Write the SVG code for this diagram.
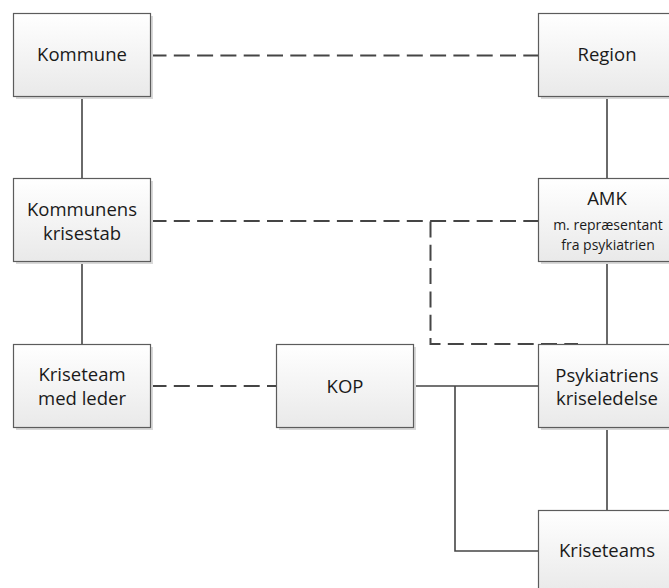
<svg xmlns="http://www.w3.org/2000/svg" width="669" height="588" viewBox="0 0 669 588">
<defs>
<linearGradient id="g" x1="0" y1="0" x2="0" y2="1">
<stop offset="0" stop-color="#ffffff"/>
<stop offset="1" stop-color="#e9e9e9"/>
</linearGradient>
<style>
.shadow{fill:#d9d9d9;}
.box{fill:url(#g);stroke:#5c5c5c;stroke-width:1.2;}
.t{font-family:"Open Sans","Liberation Sans",sans-serif;font-size:18.5px;fill:#1a1a1a;text-anchor:middle;}
.s{font-size:14px;}
.solid{fill:none;stroke:#454545;stroke-width:1.6;}
.dash{fill:none;stroke:#454545;stroke-width:2;stroke-dasharray:16 7.3;}
</style>
</defs>
<rect width="669" height="588" fill="#ffffff"/>
<g id="connectors">
<path class="dash" d="M150.5 55.5 H538.5"/>
<path class="solid" d="M82 96.5 V178.5"/>
<path class="solid" d="M82 261.5 V344.5"/>
<path class="solid" d="M607 96.5 V178.5"/>
<path class="dash" d="M150.5 221 H538.5"/>
<path class="dash" d="M430.5 221.5 V344 H578"/>
<path class="solid" d="M607 261.5 V344.5"/>
<path class="dash" d="M150.5 386 H276.5"/>
<path class="solid" d="M413.5 386 H538.5"/>
<path class="solid" d="M455 386 V551 H538.5"/>
<path class="solid" d="M607 427.5 V510.5"/>
</g>
<g id="kommune">
<rect class="shadow" x="16" y="16" width="137" height="83"/>
<rect class="box" x="13.5" y="13.5" width="137" height="83"/>
<text class="t" x="82" y="61">Kommune</text>
</g>
<g id="region">
<rect class="shadow" x="541" y="16" width="137" height="83"/>
<rect class="box" x="538.5" y="13.5" width="137" height="83"/>
<text class="t" x="607" y="61">Region</text>
</g>
<g id="krisestab">
<rect class="shadow" x="16" y="181" width="137" height="83"/>
<rect class="box" x="13.5" y="178.5" width="137" height="83"/>
<text class="t" x="82" y="215.5">Kommunens</text>
<text class="t" x="82" y="240">krisestab</text>
</g>
<g id="amk">
<rect class="shadow" x="541" y="181" width="137" height="83"/>
<rect class="box" x="538.5" y="178.5" width="137" height="83"/>
<text class="t" x="607" y="205">AMK</text>
<text class="t s" x="608" y="230">m. repræsentant</text>
<text class="t s" x="608" y="249.5">fra psykiatrien</text>
</g>
<g id="kriseteam">
<rect class="shadow" x="16" y="347" width="137" height="83"/>
<rect class="box" x="13.5" y="344.5" width="137" height="83"/>
<text class="t" x="82" y="380.5">Kriseteam</text>
<text class="t" x="82" y="405">med leder</text>
</g>
<g id="kop">
<rect class="shadow" x="279" y="347" width="137" height="83"/>
<rect class="box" x="276.5" y="344.5" width="137" height="83"/>
<text class="t" x="345" y="393">KOP</text>
</g>
<g id="psyk">
<rect class="shadow" x="541" y="347" width="137" height="83"/>
<rect class="box" x="538.5" y="344.5" width="137" height="83"/>
<text class="t" x="607" y="381.5">Psykiatriens</text>
<text class="t" x="607" y="405">kriseledelse</text>
</g>
<g id="kriseteams">
<rect class="shadow" x="541" y="513" width="137" height="83"/>
<rect class="box" x="538.5" y="510.5" width="137" height="83"/>
<text class="t" x="607" y="557">Kriseteams</text>
</g>
</svg>
